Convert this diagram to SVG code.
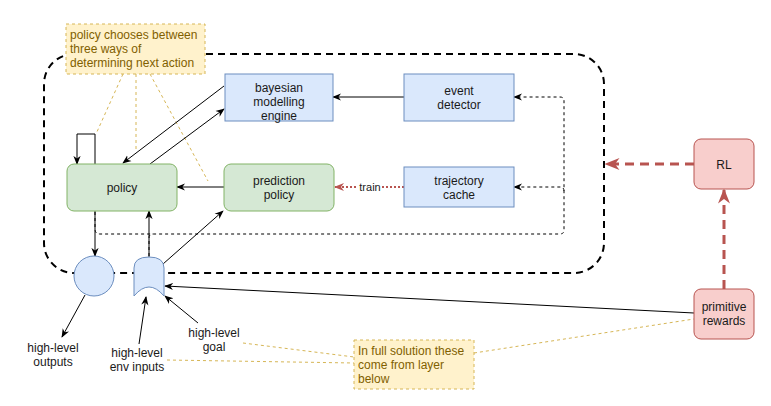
<svg xmlns="http://www.w3.org/2000/svg" width="771" height="406" viewBox="0 0 771 406">
<defs>
<style>
text{font-family:"Liberation Sans",Arial,sans-serif;font-size:12px;fill:#1a1a1a}
.c{text-anchor:middle}
.nt{fill:#7f6000}
.blue{fill:#dae8fc;stroke:#6c8ebf;stroke-width:1}
.green{fill:#d5e8d4;stroke:#82b366;stroke-width:1}
.red{fill:#f8cecc;stroke:#b85450;stroke-width:1}
.note{fill:#fff2cc;stroke:#d6b656;stroke-width:1;stroke-dasharray:3 3}
.ln{fill:none;stroke:#000;stroke-width:1}
.dl{fill:none;stroke:#000;stroke-width:1;stroke-dasharray:3 3}
.ol{fill:none;stroke:#d6b656;stroke-width:1;stroke-dasharray:3 3}
.rd{fill:none;stroke:#b85450;stroke-width:3;stroke-dasharray:9 6}
.bd{fill:none;stroke:#000;stroke-width:2;stroke-dasharray:7 5}
</style>
<marker id="a" viewBox="0 0 10 10" refX="9" refY="5" markerWidth="9" markerHeight="9" markerUnits="userSpaceOnUse" orient="auto">
<path d="M0,1 L10,5 L0,9 L3,5 Z" fill="#000"/>
</marker>
<marker id="ar" viewBox="0 0 10 10" refX="9" refY="5" markerWidth="15" markerHeight="15" markerUnits="userSpaceOnUse" orient="auto">
<path d="M0,1 L10,5 L0,9 L3,5 Z" fill="#b85450"/>
</marker>
<marker id="ar2" viewBox="0 0 10 10" refX="9" refY="5" markerWidth="10" markerHeight="10" markerUnits="userSpaceOnUse" orient="auto">
<path d="M0,1 L10,5 L0,9 L3,5 Z" fill="#b85450"/>
</marker>
</defs>
<rect width="771" height="406" fill="#fff"/>

<g id="container">
<rect x="44" y="54" width="560" height="219" rx="30" ry="30" class="bd"/>
</g>

<g id="connectors">
<!-- orange note links -->
<path class="ol" d="M123,74 L96,134"/>
<path class="ol" d="M136,74 L136,152"/>
<path class="ol" d="M150,74 L208,181"/>
<path class="ol" d="M243,343 L354,357"/>
<path class="ol" d="M167,360 L354,363"/>
<path class="ol" d="M474,353 L694,319"/>
<!-- dotted feedback -->
<path class="dl" d="M95,212 L95,229 Q95,234 100,234 L560,234 Q564,234 564,230 L564,101 Q564,97 560,97 L514,97" marker-end="url(#a)"/>
<path class="dl" d="M564,191 Q564,187 560,187 L514,187" marker-end="url(#a)"/>
<path class="dl" d="M149,256 L149,238 Q149,234 153,234"/>
<!-- solid -->
<path class="ln" d="M404,97 L333,97" marker-end="url(#a)"/>
<path class="ln" d="M224,86 L123,163" marker-end="url(#a)"/>
<path class="ln" d="M150,164 L224,109" marker-end="url(#a)"/>
<path class="ln" d="M95,164 L95,134 L77,134 L77,164" marker-end="url(#a)"/>
<path class="ln" d="M224,187 L177,187" marker-end="url(#a)"/>
<path class="ln" d="M95,211 L95,256" marker-end="url(#a)"/>
<path class="ln" d="M149,257 L149,211" marker-end="url(#a)"/>
<path class="ln" d="M163,264 L223,211" marker-end="url(#a)"/>
<path class="ln" d="M694,313 L165,286" marker-end="url(#a)"/>
<path class="ln" d="M85,295 L62,337" marker-end="url(#a)"/>
<path class="ln" d="M139,344 L146,297" marker-end="url(#a)"/>
<path class="ln" d="M198,323 L165,296" marker-end="url(#a)"/>
<!-- train -->
<path d="M404,187 L335,187" fill="none" stroke="#b85450" stroke-width="2" stroke-dasharray="2 2" marker-end="url(#ar2)"/>
<rect x="358" y="180" width="24" height="13" fill="#fff"/>
<text x="370" y="191" class="c" style="font-size:11px">train</text>
<!-- red -->
<path class="rd" d="M724,289 L724,190" marker-end="url(#ar)"/>
<path class="rd" d="M694,164 L606,164" marker-end="url(#ar)"/>
</g>

<g id="note1">
<rect x="66" y="24" width="139" height="50" class="note"/>
<text x="70" y="39" class="nt">policy chooses between</text>
<text x="70" y="53" class="nt">three ways of</text>
<text x="70" y="67" class="nt">determining next action</text>
</g>

<g id="bayesian">
<rect x="225" y="74" width="108" height="47" class="blue"/>
<text x="279" y="92" class="c">bayesian</text>
<text x="279" y="106" class="c">modelling</text>
<text x="279" y="120" class="c">engine</text>
</g>

<g id="event-detector">
<rect x="404" y="74" width="110" height="47" class="blue"/>
<text x="459" y="95" class="c">event</text>
<text x="459" y="109" class="c">detector</text>
</g>

<g id="policy">
<rect x="67" y="164" width="110" height="47" rx="7" class="green"/>
<text x="122" y="192" class="c">policy</text>
</g>

<g id="prediction-policy">
<rect x="224" y="164" width="110" height="47" rx="7" class="green"/>
<text x="279" y="185" class="c">prediction</text>
<text x="279" y="199" class="c">policy</text>
</g>

<g id="trajectory-cache">
<rect x="404" y="167" width="110" height="40" class="blue"/>
<text x="459" y="185" class="c">trajectory</text>
<text x="459" y="199" class="c">cache</text>
</g>

<g id="rl">
<rect x="694" y="139" width="60" height="50" rx="7" class="red"/>
<text x="724" y="169" class="c">RL</text>
</g>

<g id="primitive-rewards">
<rect x="694" y="289" width="60" height="50" rx="7" class="red"/>
<text x="724" y="311" class="c">primitive</text>
<text x="724" y="325" class="c">rewards</text>
</g>

<g id="outputs-node">
<circle cx="94" cy="276" r="20" class="blue"/>
</g>

<g id="inputs-node">
<path d="M134,296 L134,268 Q134,257 149,257 Q164,257 164,268 L164,296 Q149,278 134,296 Z" class="blue"/>
</g>

<g id="labels">
<text x="53" y="352" class="c">high-level</text>
<text x="53" y="366" class="c">outputs</text>
<text x="137" y="357" class="c">high-level</text>
<text x="137" y="371" class="c">env inputs</text>
<text x="214" y="337" class="c">high-level</text>
<text x="214" y="351" class="c">goal</text>
</g>

<g id="note2">
<rect x="354" y="340" width="120" height="49" class="note"/>
<text x="358" y="355" class="nt">In full solution these</text>
<text x="358" y="369" class="nt">come from layer</text>
<text x="358" y="383" class="nt">below</text>
</g>
</svg>
